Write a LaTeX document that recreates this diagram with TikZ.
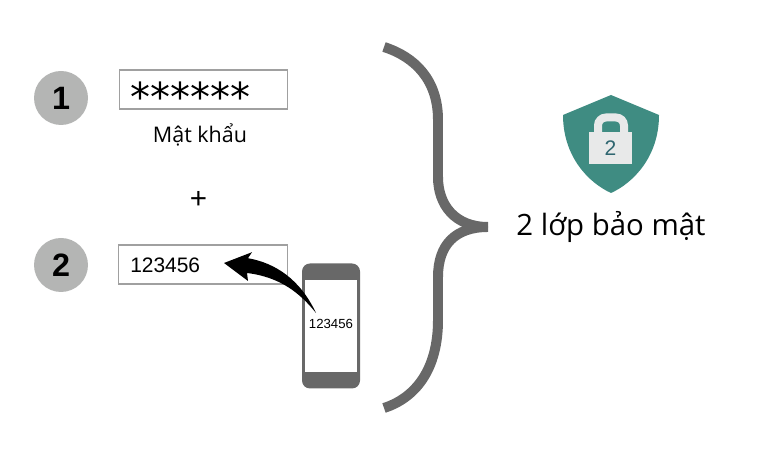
\documentclass[tikz,border=0pt]{standalone}
\usepackage{fontspec}
\setmainfont{Open Sans}
\newfontfamily\arialfont{Liberation Sans}
\newfontfamily\starfont{DejaVu Sans}
\usetikzlibrary{arrows.meta, positioning, shapes, calc}
\definecolor{bracegray}{HTML}{686868}
\definecolor{circlegray}{HTML}{B4B5B4}
\definecolor{boxgray}{HTML}{A0A0A0}
\definecolor{shieldgreen}{HTML}{3F8C82}
\definecolor{lockgray}{HTML}{E8E9E9}
\definecolor{locktext}{HTML}{2F6670}
\tikzset{
  numcircle/.style={circle, fill=circlegray, inner sep=0pt, minimum size=2.7cm*0.5, font=\arialfont\bfseries\fontsize{23}{23}\selectfont},
  inputbox/.style={draw=boxgray, line width=1.1pt, fill=white, inner sep=0pt, minimum height=0.975cm},
  boxtext/.style={font=\arialfont\fontsize{14.9}{15}\selectfont, inner sep=0pt}
}
\begin{document}
\begin{tikzpicture}
        \useasboundingbox (0,0) rectangle (19.2,11.325);

        % Numbers
        \node[numcircle] (n1) at (1.525,8.875) {1};
        \node[numcircle] (n2) at (1.525,4.7) {2};

        % Input boxes
        \node[inputbox, minimum width=4.2cm] (b1) at (5.09,9.0875) {};
        \node[inputbox, minimum width=4.225cm] (b2) at (5.075,4.7125) {};
        \node[font=\starfont\fontsize{28.4}{28}\selectfont, inner sep=0pt] (stars) at (4.77,8.92) {******};
        \node[boxtext] (code) at (4.13,4.7) {123456};

        % Labels
        \node[font=\fontsize{15.3}{15}\selectfont, inner sep=0pt] (pw) at (5,7.95) {Mật khẩu};
        \node[font=\arialfont\fontsize{21}{21}\selectfont, inner sep=0pt] (plus) at (4.96,6.33) {+};

        % Phone
        \node[fill=bracegray, rounded corners=0.2cm, minimum width=1.45cm, minimum height=3.125cm, inner sep=0pt] (phone) at (8.275,3.175) {};
        \node[fill=white, minimum width=1.3cm, minimum height=2.3cm, inner sep=0pt] (screen) at (8.275,3.1625) {};
        \node[font=\arialfont\fontsize{9.4}{10}\selectfont, inner sep=0pt] (phonecode) at (8.275,3.22) {123456};

        % Arrow
        \coordinate (tail) at (7.9,3.5);
        \coordinate (tip) at (5.6,4.75);
        \fill[black] (tail) .. controls (7.5,4.35) and (6.875,4.75) .. (6.2,4.87)
          -- (6.3,5.02) -- (tip) -- (6.2,4.3) -- (6.175,4.5)
          .. controls (7.0,4.4) and (7.5,4.0) .. (tail) -- cycle;

        % Brace
        \coordinate (tb) at (9.6,10.15);
        \coordinate (mb) at (12.2,5.65);
        \coordinate (bb) at (9.6,1.125);
        \draw[bracegray, line width=7.1pt] (tb) .. controls (10.375,9.9) and (10.95,9.325) .. (10.95,8.325)
          -- (10.95,6.9) .. controls (10.95,6.2) and (11.375,5.65) .. (mb);
        \draw[bracegray, line width=7.1pt] (mb) .. controls (11.375,5.65) and (10.95,5.2) .. (10.95,4.4)
          -- (10.95,3.325) .. controls (10.95,2.075) and (10.375,1.375) .. (bb);

        % Shield
        \fill[shieldgreen] (15.275,8.95) -- (16.475,8.45) .. controls (16.475,7.4) and (15.825,6.75) .. (15.275,6.5)
          .. controls (14.725,6.75) and (14.075,7.4) .. (14.075,8.45) -- cycle;
        \draw[lockgray, line width=5.7pt, rounded corners=0.2cm] (14.95,7.95) -- (14.95,8.3875) -- (15.6,8.3875) -- (15.6,7.95);
        \node[fill=lockgray, minimum width=1.075cm, minimum height=0.8cm, inner sep=0pt, text=locktext, font=\arialfont\fontsize{15}{15}\selectfont] (lock) at (15.2625,7.625) {2};
        \node[font=\fontsize{20.9}{21}\selectfont, inner sep=0pt] (title) at (15.275,5.65) {2 lớp bảo mật};
      \end{tikzpicture}
\end{document}
